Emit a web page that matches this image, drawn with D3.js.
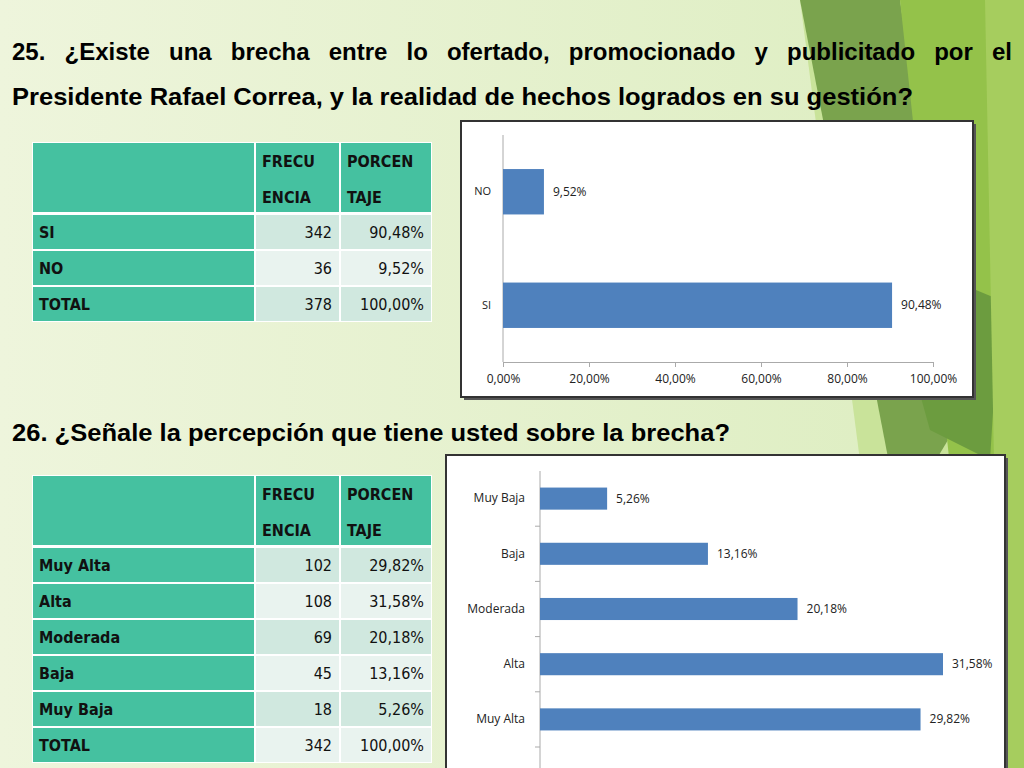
<!DOCTYPE html>
<html><head><meta charset="utf-8">
<script src="https://d3js.org/d3.v7.min.js"></script>
<style>body{margin:0}svg{display:block}</style>
</head><body><svg></svg>
<script>
const q1Cats = ["SI", "NO"];
const q1Freq = [342, 36];
const q1Pct = [90.48, 9.52];
const q1Total = [378, 100.0];
const q2Cats = ["Muy Alta", "Alta", "Moderada", "Baja", "Muy Baja"];
const q2Freq = [102, 108, 69, 45, 18];
const q2Pct = [29.82, 31.58, 20.18, 13.16, 5.26];
const q2Total = [342, 100.0];
const q1Ticks = [0, 20, 40, 60, 80, 100];

const W = 1024, H = 768;
const svg = d3.select("svg").attr("width", W).attr("height", H);
const fmt = v => v.toFixed(2).replace(".", ",") + "%";

// background
const defs = svg.append("defs");
const bg = defs.append("linearGradient").attr("id", "bg").attr("x1", 0).attr("x2", 1);
bg.append("stop").attr("offset", 0).attr("stop-color", "#eef5dc");
bg.append("stop").attr("offset", 1).attr("stop-color", "#dcedbf");
svg.append("rect").attr("width", W).attr("height", H).attr("fill", "url(#bg)");
const shapes = [
  ["#c9e39a", [[800,0],[1024,0],[1024,768],[900,768]]],
  ["#7aa34d", [[800,0],[900,0],[960,420],[900,520]]],
  ["#94c24a", [[900,0],[1024,0],[1024,768],[960,560]]],
  ["#6c9c3f", [[880,250],[1000,300],[990,460],[930,430]]],
  ["#a6cd5e", [[985,0],[1024,0],[1024,768],[1000,768]]]
];
svg.selectAll("polygon.bgshape").data(shapes).join("polygon")
  .attr("points", d => d[1].map(p => p.join(",")).join(" ")).attr("fill", d => d[0]);

// titles
const tf = "Liberation Sans, Arial, sans-serif";
const t1 = svg.append("text").attr("x", 12).attr("y", 60).attr("font-family", tf).attr("font-weight", "bold").attr("font-size", 24)
  .text("25. ¿Existe una brecha entre lo ofertado, promocionado y publicitado por el");
const tw = t1.node().getComputedTextLength();
const nSp = t1.text().split(" ").length - 1;
t1.attr("word-spacing", (1012 - 12 - tw) / nSp);
svg.append("text").attr("x", 12).attr("y", 105).attr("font-family", tf).attr("font-weight", "bold").attr("font-size", 24)
  .attr("textLength", 901).attr("lengthAdjust", "spacingAndGlyphs")
  .text("Presidente Rafael Correa, y la realidad de hechos logrados en su gestión?");
svg.append("text").attr("x", 12).attr("y", 441).attr("font-family", tf).attr("font-weight", "bold").attr("font-size", 24)
  .attr("textLength", 718).attr("lengthAdjust", "spacingAndGlyphs")
  .text("26. ¿Señale la percepción que tiene usted sobre la brecha?");

// tables
function table(top, cats, freq, pct, total) {
  const g = svg.append("g");
  const cols = [32, 255, 340, 432];
  const teal = "#45c1a0";
  const rows = cats.map((c, i) => [c, freq[i], fmt(pct[i])]).concat([["TOTAL", total[0], fmt(total[1])]]);
  const rh = 36, hh = 72;
  g.append("rect").attr("x", cols[0]).attr("y", top).attr("width", cols[3] - cols[0]).attr("height", hh + rh * rows.length)
    .attr("fill", "#fff");
  [[0, "", ""], [1, "FRECU", "ENCIA"], [2, "PORCEN", "TAJE"]].forEach(([c, a, b]) => {
    g.append("rect").attr("x", cols[c] + 1).attr("y", top + 1).attr("width", cols[c + 1] - cols[c] - 2).attr("height", hh - 3).attr("fill", teal);
    g.append("text").attr("class", "b").attr("x", cols[c] + 7).attr("y", top + 25).text(a);
    g.append("text").attr("class", "b").attr("x", cols[c] + 7).attr("y", top + 61).text(b);
  });
  rows.forEach((r, i) => {
    const y = top + hh + i * rh;
    const light = i % 2 === 0 ? "#d0e8df" : "#e9f3ef";
    [teal, light, light].forEach((f, c) => {
      g.append("rect").attr("x", cols[c] + 1).attr("y", y + 1).attr("width", cols[c + 1] - cols[c] - 2).attr("height", rh - 2).attr("fill", f);
    });
    g.append("text").attr("class", "b").attr("x", cols[0] + 7).attr("y", y + 24).text(r[0]);
    g.append("text").attr("x", cols[2] - 8).attr("y", y + 24).attr("text-anchor", "end").text(r[1]);
    g.append("text").attr("x", cols[3] - 8).attr("y", y + 24).attr("text-anchor", "end").text(r[2]);
  });
  g.selectAll("text").attr("font-family", "DejaVu Sans Condensed, DejaVu Sans").attr("font-size", 16).attr("fill", "#111");
  g.selectAll("text.b").attr("font-weight", "bold");
}
table(142, q1Cats, q1Freq, q1Pct, q1Total);
table(475, q2Cats, q2Freq, q2Pct, q2Total);

// chart 1
const cf = "Open Sans, DejaVu Sans, sans-serif";
function frame(x, y, w, h) {
  svg.append("rect").attr("x", x + 3).attr("y", y + 3).attr("width", w).attr("height", h).attr("fill", "#555");
  svg.append("rect").attr("x", x).attr("y", y).attr("width", w).attr("height", h).attr("fill", "#fff").attr("stroke", "#333").attr("stroke-width", 2);
}
frame(461, 121, 512, 276);
const x1 = d3.scaleLinear().domain([0, 100]).range([503, 933]);
const y1 = d3.scaleBand().domain(q1Cats).range([362, 135]).paddingInner(0.6).paddingOuter(0.3);
const g1 = svg.append("g");
g1.append("g").attr("transform", "translate(0,362)")
  .call(d3.axisBottom(x1).tickValues(q1Ticks).tickSize(5).tickFormat(d => fmt(d)))
  .call(a => { a.select(".domain").attr("stroke", "#aaa"); a.selectAll("line").attr("stroke", "#aaa");
    a.selectAll("text").attr("font-family", cf).attr("font-size", 12).attr("fill", "#222").attr("dy", "1.1em"); });
g1.append("g").attr("transform", "translate(503,0)")
  .call(d3.axisLeft(y1).tickSize(0).tickPadding(12))
  .call(a => { a.select(".domain").attr("stroke", "#aaa").attr("d", "M0,135V362");
    a.selectAll("text").attr("font-family", cf).attr("font-size", 11).attr("fill", "#222"); });
g1.selectAll("rect.bar").data(q1Cats).join("rect").attr("class", "bar")
  .attr("x", x1(0)).attr("y", d => y1(d)).attr("height", y1.bandwidth())
  .attr("width", (d, i) => x1(q1Pct[i]) - x1(0)).attr("fill", "#4f81bd");
g1.selectAll("text.lbl").data(q1Cats).join("text").attr("class", "lbl")
  .attr("x", (d, i) => x1(q1Pct[i]) + 9).attr("y", d => y1(d) + y1.bandwidth() / 2 + 4)
  .attr("font-family", cf).attr("font-size", 12).attr("fill", "#222").text((d, i) => fmt(q1Pct[i]));

// chart 2
frame(446, 455, 559, 320);
const x2 = d3.scaleLinear().domain([0, 31.58]).range([540, 943]);
const y2 = d3.scaleBand().domain(q2Cats).range([747, 471]).paddingInner(0.6).paddingOuter(0.3);
const g2 = svg.append("g");
g2.append("g").attr("transform", "translate(540,0)")
  .call(d3.axisLeft(y2).tickSize(5).tickPadding(10))
  .call(a => { a.select(".domain").attr("stroke", "#aaa").attr("d", "M0,471V768");
    a.selectAll("line").attr("stroke", "#aaa").attr("transform", `translate(0,${y2.step() / 2})`);
    a.selectAll("text").attr("font-family", cf).attr("font-size", 12).attr("fill", "#222"); });
g2.selectAll("rect.bar").data(q2Cats).join("rect").attr("class", "bar")
  .attr("x", x2(0)).attr("y", d => y2(d)).attr("height", y2.bandwidth())
  .attr("width", (d, i) => x2(q2Pct[i]) - x2(0)).attr("fill", "#4f81bd");
g2.selectAll("text.lbl").data(q2Cats).join("text").attr("class", "lbl")
  .attr("x", (d, i) => x2(q2Pct[i]) + 9).attr("y", d => y2(d) + y2.bandwidth() / 2 + 4)
  .attr("font-family", cf).attr("font-size", 12).attr("fill", "#222").text((d, i) => fmt(q2Pct[i]));
</script></body></html>
